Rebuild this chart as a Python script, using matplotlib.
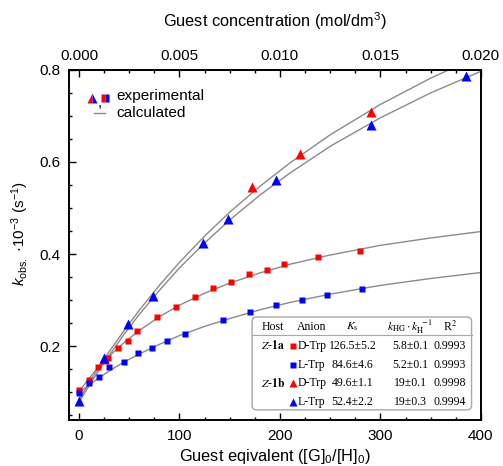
import numpy as np
import matplotlib
matplotlib.use("Agg")
import matplotlib.pyplot as plt
from matplotlib.patches import FancyBboxPatch
from matplotlib.ticker import MultipleLocator, FixedLocator, FormatStrFormatter

plt.rcParams['font.family'] = ['Liberation Sans', 'DejaVu Sans']
plt.rcParams['mathtext.fontset'] = 'custom'
plt.rcParams['mathtext.rm'] = 'Liberation Sans'
plt.rcParams['mathtext.it'] = 'Liberation Sans:italic'
plt.rcParams['mathtext.bf'] = 'Liberation Sans:bold'

# experimental points (guest equivalents, k_obs*10^-3)
red_sq_x = [0, 10, 19, 29, 39, 49, 58, 78, 97, 115, 133, 151, 169, 187, 204, 238, 280]
red_sq_y = [0.104, 0.127, 0.155, 0.175, 0.195, 0.212, 0.233, 0.263, 0.286, 0.307,
            0.326, 0.339, 0.357, 0.366, 0.379, 0.394, 0.407]
blue_sq_x = [0, 10, 20, 30, 45, 59, 73, 88, 106, 143, 170, 196, 222, 247, 282]
blue_sq_y = [0.099, 0.119, 0.133, 0.154, 0.165, 0.185, 0.197, 0.212, 0.227, 0.256,
             0.275, 0.289, 0.300, 0.312, 0.325]
red_tri_x = [25, 172, 220, 291]
red_tri_y = [0.172, 0.546, 0.617, 0.709]
blue_tri_x = [0, 25, 49, 74, 123, 148, 196, 291, 385]
blue_tri_y = [0.081, 0.175, 0.248, 0.309, 0.425, 0.476, 0.560, 0.680, 0.786]

# calculated curves
fit_x = [0, 10, 20, 30, 45, 60, 80, 100, 125, 150, 180, 210, 250, 300, 350, 400]
fit_red_sq = [0.101, 0.130, 0.156, 0.178, 0.208, 0.234, 0.264, 0.289, 0.315, 0.337,
              0.359, 0.378, 0.398, 0.419, 0.435, 0.449]
fit_blue_sq = [0.099, 0.116, 0.131, 0.146, 0.166, 0.183, 0.204, 0.223, 0.243, 0.260,
               0.279, 0.295, 0.313, 0.332, 0.347, 0.360]
fit_red_tri = [0.084, 0.120, 0.155, 0.188, 0.234, 0.278, 0.332, 0.382, 0.439, 0.491,
               0.547, 0.598, 0.659, 0.725, 0.782, 0.832]
fit_blue_tri = [0.078, 0.114, 0.148, 0.180, 0.226, 0.269, 0.321, 0.370, 0.424, 0.474,
                0.528, 0.576, 0.634, 0.696, 0.750, 0.797]

# table contents
hosts = [r"$\mathit{Z}$-$\mathbf{1a}$", "", r"$\mathit{Z}$-$\mathbf{1b}$", ""]
anions = ["D-Trp", "L-Trp", "D-Trp", "L-Trp"]
anion_marks = [("s", "red"), ("s", "blue"), ("^", "red"), ("^", "blue")]
ks_vals = ["126.5\u00b15.2", "84.6\u00b14.6", "49.6\u00b11.1", "52.4\u00b12.2"]
ratio_vals = ["5.8\u00b10.1", "5.2\u00b10.1", "19\u00b10.1", "19\u00b10.3"]
r2_vals = ["0.9993", "0.9993", "0.9998", "0.9994"]

conc_ticks = [0.000, 0.005, 0.010, 0.015, 0.020]
H0 = 5e-5  # mol/dm3 host concentration

fig = plt.figure(figsize=(5.03, 4.66), dpi=100)
ax = fig.add_axes([0.137, 0.099, 0.819, 0.751])

gray = "#8a8a8a"
for fy in [fit_red_sq, fit_blue_sq, fit_red_tri, fit_blue_tri]:
    ax.plot(fit_x, fy, color=gray, lw=1.0, zorder=2)

ax.plot(red_sq_x, red_sq_y, "s", color="red", ms=5, mec="none", zorder=3)
ax.plot(blue_sq_x, blue_sq_y, "s", color="blue", ms=5, mec="none", zorder=3)
ax.plot(red_tri_x, red_tri_y, "^", color="red", ms=6.5, mec="none", zorder=3)
ax.plot(blue_tri_x, blue_tri_y, "^", color="blue", ms=6.5, mec="none", zorder=4)

ax.set_xlim(-10, 400)
ax.set_ylim(0.04, 0.8)
ax.xaxis.set_major_locator(MultipleLocator(100))
ax.xaxis.set_minor_locator(MultipleLocator(25))
ax.yaxis.set_major_locator(MultipleLocator(0.2))
ax.yaxis.set_minor_locator(MultipleLocator(0.05))
ax.yaxis.set_major_formatter(FormatStrFormatter('%.1f'))
ax.tick_params(which='both', direction='in', top=False, right=False, labelsize=11, width=1.0)
ax.tick_params(which='major', length=5)
ax.tick_params(which='minor', length=2.5)
ax.tick_params(axis='x', pad=6.5)
ax.tick_params(axis='y', pad=6)
for sp in ax.spines.values():
    sp.set_linewidth(1.4)

ax.set_xlabel(r"Guest eqivalent ([G]$_0$/[H]$_0$)", fontsize=11.8)
ax.xaxis.set_label_coords(0.5, -0.078)
ax.set_ylabel(r"$k_{\mathrm{obs.}}$ ·10$^{-3}$ (s$^{-1}$)", fontsize=11)
ax.yaxis.set_label_coords(-0.093, 0.531)

top = ax.secondary_xaxis('top', functions=(lambda x: x * H0, lambda c: c / H0))
top.xaxis.set_major_locator(FixedLocator(conc_ticks))
top.xaxis.set_minor_locator(MultipleLocator(0.00125))
top.xaxis.set_major_formatter(FormatStrFormatter('%.3f'))
top.tick_params(which='both', direction='in', labelsize=11, width=1.0, pad=5)
top.tick_params(which='major', length=5)
top.tick_params(which='minor', length=2.5)
top.spines['top'].set_linewidth(1.4)
top.set_xlabel(r"Guest concentration (mol/dm$^3$)", fontsize=11.8)
top.xaxis.set_label_coords(0.5, 1.123, transform=ax.transAxes)

# legend drawn by hand
tr = ax.transAxes
ax.plot([0.0566], [0.921], "^", ms=7, transform=tr, fillstyle='left', color='red',
        markerfacecoloralt='blue', mec='none')
ax.text(0.0745, 0.905, ",", transform=tr, fontsize=11, ha='center', va='center')
ax.plot([0.0874], [0.921], "s", ms=5.5, transform=tr, fillstyle='left', color='red',
        markerfacecoloralt='blue', mec='none')
ax.text(0.1148, 0.9266, "experimental", transform=tr, fontsize=11.1, va='center')
ax.plot([0.0614, 0.0881], [0.876, 0.876], color=gray, lw=1.0, transform=tr)
ax.text(0.1148, 0.876, "calculated", transform=tr, fontsize=11.1, va='center')

# parameter table
box = FancyBboxPatch((0.4447, 0.0286), 0.5327, 0.2654, boxstyle="round,pad=0,rounding_size=0.012",
                     transform=tr, fc='white', ec='#a8a8a8', lw=1.0, zorder=5)
ax.add_patch(box)
ax.plot([0.4447, 0.9774], [0.243, 0.243], color='#a8a8a8', lw=0.8, transform=tr, zorder=6)

tkw = dict(transform=tr, fontsize=8.5, ha='center', va='center', zorder=7,
           family=['Liberation Serif', 'DejaVu Serif'], math_fontfamily='stix')
head_y = 0.2666
ax.text(0.495, head_y, "Host", **tkw)
ax.text(0.589, head_y, "Anion", **tkw)
ax.text(0.6886, head_y, r"$K_\mathrm{s}$", **tkw)
ax.text(0.829, head_y, r"$k_\mathrm{HG}\cdot k_\mathrm{H}^{\ -1}$", **tkw)
ax.text(0.925, head_y, r"R$^2$", **tkw)

row_y = [0.2114, 0.157, 0.1049, 0.0506]
for i, yy in enumerate(row_y):
    ax.text(0.495, yy, hosts[i], **tkw)
    mk, col = anion_marks[i]
    ax.plot([0.5437], [yy], mk, color=col, mec='none', ms=6 if mk == "^" else 4.5,
            transform=tr, zorder=7)
    ax.text(0.556, yy, anions[i], **dict(tkw, ha='left'))
    ax.text(0.6886, yy, ks_vals[i], **tkw)
    ax.text(0.829, yy, ratio_vals[i], **tkw)
    ax.text(0.925, yy, r2_vals[i], **tkw)

fig.savefig("out.png", dpi=100)
